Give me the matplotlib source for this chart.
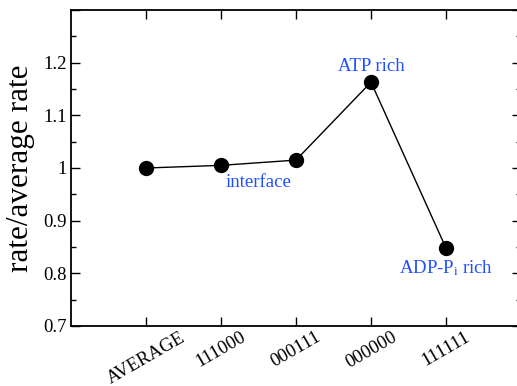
import matplotlib
matplotlib.use("Agg")
import matplotlib.pyplot as plt
from matplotlib.ticker import MultipleLocator, FuncFormatter

categories = ["AVERAGE", "111000", "000111", "000000", "111111"]
values = [1.0, 1.005, 1.015, 1.163, 0.848]
annotations = ["interface", "ATP rich", "ADP-P$_\\mathrm{i}$ rich"]
annot_x = [2.5, 4, 5]
annot_y = [0.972, 1.193, 0.81]

plt.rcParams['font.family'] = ['Liberation Serif', 'DejaVu Serif']
plt.rcParams['mathtext.fontset'] = 'custom'
plt.rcParams['mathtext.rm'] = 'Liberation Serif'
plt.rcParams['mathtext.it'] = 'Liberation Serif:italic'

fig = plt.figure(figsize=(5.17, 3.86), dpi=100)
ax = fig.add_axes([71/517, 60/386, 450/517, 316/386])

x = list(range(1, len(categories) + 1))
ax.plot(x, values, color='black', lw=1.0, marker='o', ms=10, mfc='black', mec='black', zorder=3)

blue = '#1f4fff'
for t, tx, ty in zip(annotations, annot_x, annot_y):
    ax.text(tx, ty, t, color=blue, fontsize=13.5, ha='center', va='center')

ax.set_xlim(0, 6)
ax.set_ylim(0.7, 1.3)
ax.set_xticks(x)
ax.set_xticklabels(categories, rotation=30, ha='center', va='top', fontsize=13.5)
ax.yaxis.set_major_locator(MultipleLocator(0.1))
ax.yaxis.set_minor_locator(MultipleLocator(0.05))
ax.yaxis.set_major_formatter(FuncFormatter(lambda v, p: '' if v > 1.25 else ('%g' % round(v, 2))))
ax.tick_params(axis='both', which='major', direction='in', length=6.5, width=1.0, labelsize=13.5,
               top=True, right=True, pad=3)
ax.tick_params(axis='x', which='major', pad=2)
ax.tick_params(axis='y', which='minor', direction='in', length=3.5, width=1.0, right=True)
ax.tick_params(axis='x', which='minor', bottom=False, top=False)
for s in ax.spines.values():
    s.set_linewidth(1.3)

ax.set_ylabel('rate/average rate', fontsize=22.5, labelpad=6)

fig.savefig('out.png', dpi=100)
